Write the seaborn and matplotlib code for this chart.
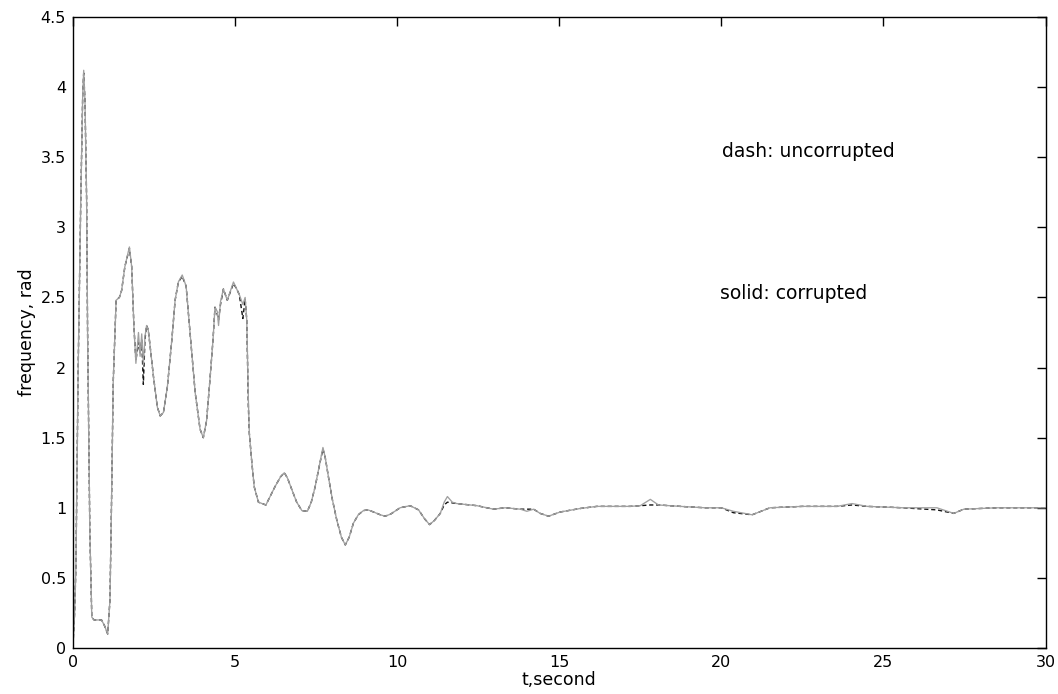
import matplotlib
matplotlib.use("Agg")
import matplotlib.pyplot as plt
import seaborn as sns
import pandas as pd

# time samples (s)
t = [0.00, 0.05, 0.09, 0.16, 0.24, 0.30, 0.33, 0.37, 0.42, 0.45, 0.52, 0.58, 0.65, 0.88, 0.97,
     1.07, 1.14, 1.19, 1.24, 1.33, 1.43, 1.50, 1.60, 1.74, 1.81, 1.88, 1.94, 2.02, 2.07, 2.12,
     2.17, 2.22, 2.27, 2.32, 2.38, 2.48, 2.60, 2.69, 2.79, 2.91, 3.05, 3.15, 3.25, 3.37, 3.49,
     3.61, 3.77, 3.92, 4.02, 4.12, 4.22, 4.32, 4.38, 4.45, 4.49, 4.55, 4.64, 4.76, 4.95, 5.05,
     5.13, 5.24, 5.31, 5.36, 5.41, 5.44, 5.51, 5.59, 5.72, 5.95, 6.23, 6.40, 6.52, 6.62, 6.75,
     6.90, 7.06, 7.23, 7.35, 7.47, 7.60, 7.71, 7.78, 7.88, 8.00, 8.14, 8.28, 8.40, 8.52, 8.65,
     8.80, 8.96, 9.10, 9.27, 9.48, 9.63, 9.80, 10.09, 10.40, 10.66, 10.85, 11.00, 11.15, 11.33, 11.45,
     11.55, 11.70, 11.84, 12.46, 12.97, 13.33, 13.80, 14.00, 14.21, 14.41, 14.67, 15.03, 15.65, 16.16, 17.19,
     17.50, 17.81, 18.06, 18.73, 19.50, 20.00, 20.37, 20.95, 21.50, 22.50, 23.57, 24.03, 24.50, 25.60, 26.65,
     27.17, 27.48, 28.50, 30.00]

# dash: uncorrupted
uncorrupted = [0.02, 0.25, 0.58, 2.00, 3.20, 3.95, 4.10, 3.90, 3.20, 2.25, 0.82, 0.22, 0.20, 0.20, 0.16,
               0.10, 0.34, 1.06, 1.89, 2.48, 2.50, 2.55, 2.72, 2.85, 2.72, 2.29, 2.05, 2.18, 2.10, 2.20,
               1.88, 2.20, 2.30, 2.27, 2.15, 1.94, 1.72, 1.655, 1.68, 1.86, 2.20, 2.48, 2.61, 2.65, 2.58,
               2.25, 1.82, 1.56, 1.50, 1.62, 1.90, 2.20, 2.43, 2.38, 2.34, 2.45, 2.56, 2.48, 2.60, 2.56,
               2.52, 2.35, 2.49, 2.34, 1.72, 1.53, 1.34, 1.15, 1.04, 1.02, 1.15, 1.22, 1.25, 1.21, 1.13,
               1.04, 0.98, 0.975, 1.04, 1.15, 1.30, 1.42, 1.36, 1.22, 1.06, 0.91, 0.79, 0.735, 0.79, 0.89,
               0.95, 0.98, 0.985, 0.97, 0.95, 0.94, 0.955, 1.00, 1.015, 0.985, 0.92, 0.88, 0.91, 0.96, 1.02,
               1.04, 1.035, 1.03, 1.015, 0.99, 1.00, 0.99, 0.99, 0.99, 0.96, 0.94, 0.97, 0.995, 1.01, 1.01,
               1.015, 1.02, 1.02, 1.01, 1.00, 1.00, 0.965, 0.95, 1.00, 1.01, 1.01, 1.02, 1.01, 1.00, 0.985,
               0.96, 0.99, 1.00, 1.00]

# solid: corrupted
corrupted = [0.02, 0.25, 0.58, 2.00, 3.20, 3.95, 4.12, 3.90, 3.20, 2.25, 0.82, 0.22, 0.20, 0.20, 0.16,
             0.10, 0.34, 1.06, 1.89, 2.48, 2.50, 2.55, 2.72, 2.86, 2.72, 2.29, 2.03, 2.25, 2.08, 2.24,
             2.02, 2.22, 2.30, 2.27, 2.15, 1.94, 1.72, 1.655, 1.68, 1.86, 2.20, 2.48, 2.61, 2.66, 2.58,
             2.25, 1.82, 1.56, 1.50, 1.62, 1.90, 2.20, 2.43, 2.40, 2.30, 2.47, 2.56, 2.48, 2.61, 2.56,
             2.52, 2.45, 2.50, 2.34, 1.77, 1.53, 1.34, 1.15, 1.04, 1.02, 1.15, 1.22, 1.25, 1.21, 1.13,
             1.04, 0.98, 0.975, 1.04, 1.15, 1.30, 1.43, 1.36, 1.22, 1.06, 0.91, 0.79, 0.735, 0.79, 0.89,
             0.95, 0.98, 0.985, 0.97, 0.95, 0.94, 0.955, 1.00, 1.015, 0.985, 0.92, 0.88, 0.91, 0.96, 1.04,
             1.08, 1.04, 1.03, 1.015, 0.99, 1.00, 0.99, 0.975, 0.99, 0.96, 0.94, 0.97, 0.995, 1.01, 1.01,
             1.015, 1.06, 1.02, 1.01, 1.00, 1.00, 0.975, 0.95, 1.00, 1.01, 1.01, 1.03, 1.01, 1.00, 1.00,
             0.96, 0.99, 1.00, 1.00]

x_ticks = [0, 5, 10, 15, 20, 25, 30]
y_ticks = [0, 0.5, 1, 1.5, 2, 2.5, 3, 3.5, 4, 4.5]
y_tick_labels = ["0", "0.5", "1", "1.5", "2", "2.5", "3", "3.5", "4", "4.5"]

sns.set_style("white")
plt.rcParams["font.family"] = ["DejaVu Sans"]
plt.rcParams["text.color"] = "black"
plt.rcParams["axes.labelcolor"] = "black"

df_u = pd.DataFrame({"t": t, "f": uncorrupted})
df_c = pd.DataFrame({"t": t, "f": corrupted})

fig = plt.figure(figsize=(10.58, 6.94), dpi=100)
ax = fig.add_axes([73 / 1058, 46 / 694, 972.5 / 1058, 631 / 694])

sns.lineplot(data=df_u, x="t", y="f", ax=ax, color="#111111", linewidth=1.0,
             dashes=False, linestyle=(0, (3, 2)), sort=False, estimator=None)
sns.lineplot(data=df_c, x="t", y="f", ax=ax, color="#a0a0a0", linewidth=0.95,
             sort=False, estimator=None)

ax.set_xlim(0, 30)
ax.set_ylim(0, 4.5)
ax.set_xticks(x_ticks)
ax.set_xticklabels([str(v) for v in x_ticks])
ax.set_yticks(y_ticks)
ax.set_yticklabels(y_tick_labels)
ax.tick_params(direction="in", length=6.5, width=1.0, top=True, right=True,
               labelsize=11.5, pad=5, colors="black")
for s in ax.spines.values():
    s.set_visible(True)
    s.set_color("black")
    s.set_linewidth(1.0)

ax.set_xlabel("t,second", fontsize=12.5, labelpad=1, color="black")
ax.set_ylabel("frequency, rad", fontsize=12.5, labelpad=3, color="black")

ax.text(20.03, 3.54, "dash: uncorrupted", fontsize=13.5, va="center", ha="left", color="black")
ax.text(19.97, 2.525, "solid: corrupted", fontsize=13.5, va="center", ha="left", color="black")

fig.savefig("out.png", dpi=100, facecolor="white")
